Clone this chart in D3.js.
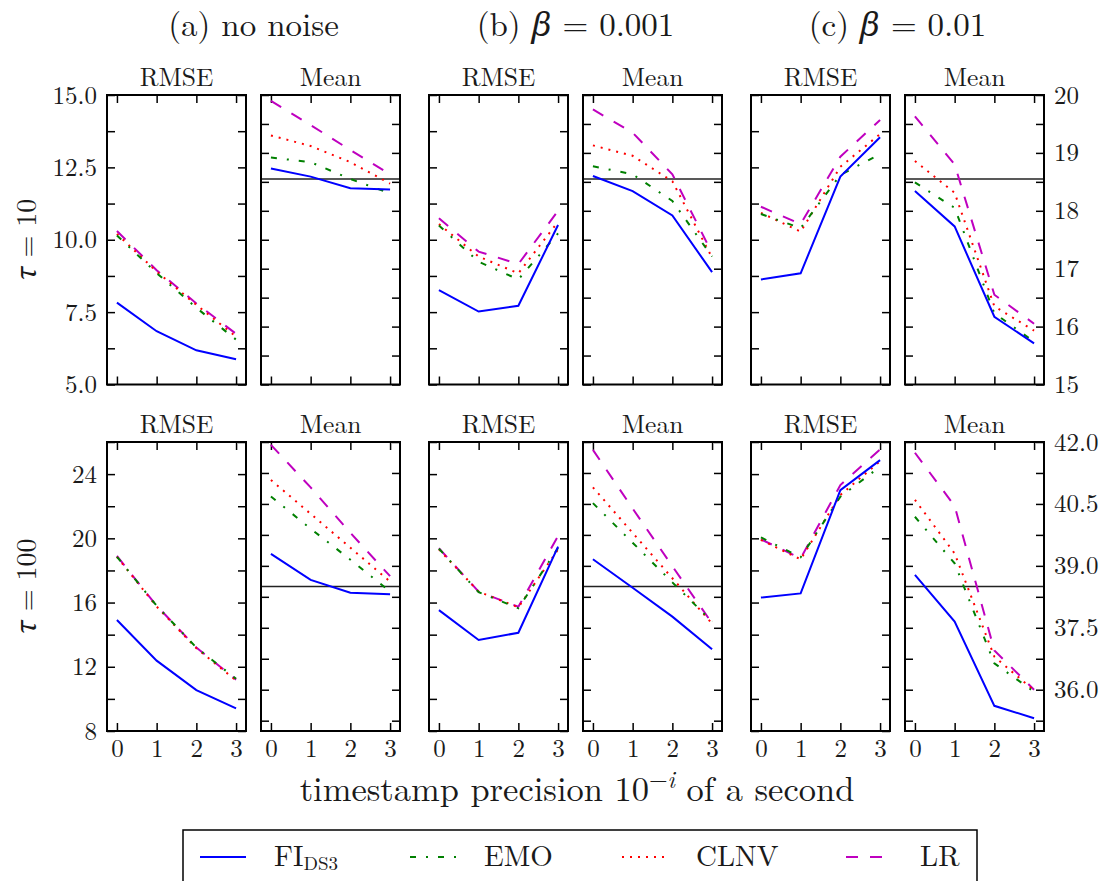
<!DOCTYPE html>
<html><head><meta charset="utf-8">
<script src="https://cdn.jsdelivr.net/npm/d3@7/dist/d3.min.js"></script>
<style>
body{margin:0;background:#fff}
svg{display:block}
</style>
</head><body>
<svg id="c" width="1104" height="881"></svg>
<script>
// ---------- data ----------
const precision = [0, 1, 2, 3];
const methods = ["FI", "EMO", "CLNV", "LR"];
const columnTitles = ["(a) no noise", "(b) β = 0.001", "(c) β = 0.01"];
const metricTitles = ["RMSE", "Mean"];
const rowLabels = ["10", "100"];

// series order: FI, EMO, CLNV, LR
const rmse10A = [[7.83, 6.84, 6.18, 5.87], [10.15, 8.85, 7.65, 6.55], [10.2, 8.9, 7.75, 6.65], [10.3, 8.95, 7.8, 6.75]];
const rmse10B = [[8.26, 7.52, 7.72, 10.51], [10.49, 9.24, 8.63, 10.22], [10.54, 9.42, 8.84, 10.62], [10.74, 9.59, 9.16, 11.0]];
const rmse10C = [[8.63, 8.84, 12.18, 13.54], [10.89, 10.40, 12.24, 12.96], [10.93, 10.28, 12.52, 13.65], [11.14, 10.54, 12.87, 14.14]];
const mean10A = [[18.73, 18.59, 18.39, 18.37], [18.92, 18.84, 18.55, 18.30], [19.30, 19.12, 18.84, 18.47], [19.90, 19.48, 19.05, 18.63]];
const mean10B = [[18.60, 18.34, 17.92, 16.94], [18.77, 18.63, 18.17, 17.21], [19.13, 18.95, 18.51, 17.19], [19.75, 19.35, 18.63, 17.27]];
const mean10C = [[18.34, 17.73, 16.17, 15.71], [18.49, 18.05, 16.23, 15.74], [18.86, 18.31, 16.35, 15.93], [19.63, 18.80, 16.55, 16.05]];
const rmse100A = [[14.91, 12.38, 10.55, 9.41], [18.85, 15.8, 13.2, 11.25], [18.85, 15.75, 13.15, 11.15], [18.9, 15.8, 13.2, 11.2]];
const rmse100B = [[15.53, 13.67, 14.12, 19.48], [19.35, 16.65, 15.65, 19.4], [19.31, 16.68, 15.70, 19.31], [19.38, 16.68, 15.74, 20.14]];
const rmse100C = [[16.31, 16.57, 23.0, 24.87], [20.06, 18.82, 22.59, 24.46], [19.9, 18.69, 22.7, 24.8], [19.94, 18.75, 23.32, 25.54]];
const mean100A = [[39.29, 38.66, 38.35, 38.31], [40.68, 39.9, 39.15, 38.38], [41.08, 40.26, 39.44, 38.62], [41.93, 40.9, 39.8, 38.75]];
const mean100B = [[39.16, 38.47, 37.77, 36.98], [40.52, 39.56, 38.6, 37.65], [40.9, 39.8, 38.7, 37.6], [41.81, 40.39, 38.99, 37.61]];
const mean100C = [[38.78, 37.65, 35.61, 35.31], [40.19, 39.06, 36.64, 35.95], [40.6, 39.30, 36.8, 35.98], [41.74, 40.45, 36.95, 36.0]];

const meanReference = [18.55, 38.5];

const rmseDomain10 = [5, 15], meanDomain10 = [15, 20];
const rmseDomain100 = [8, 26], meanDomain100 = [35, 42];
const rmseTicks10 = [5, 6.25, 7.5, 8.75, 10, 11.25, 12.5, 13.75, 15];
const rmseLabels10 = [5, 7.5, 10, 12.5, 15];
const meanTicks10 = [15, 15.5, 16, 16.5, 17, 17.5, 18, 18.5, 19, 19.5, 20];
const meanLabels10 = [15, 16, 17, 18, 19, 20];
const rmseTicks100 = [8, 10, 12, 14, 16, 18, 20, 22, 24, 26];
const rmseLabels100 = [8, 12, 16, 20, 24];
const meanTicks100 = [35.25, 36, 36.75, 37.5, 38.25, 39, 39.75, 40.5, 41.25, 42];
const meanLabels100 = [36, 37.5, 39, 40.5, 42];

// ---------- layout / style ----------
const FONT = '"Latin Modern Roman", "Liberation Serif", serif';
const GREEK = '"Noto Serif", "Liberation Serif", serif';
const TXT = "#1a1a1a";
const W = 1104, H = 881;
const panelW = 139, innerGap = 15, pairStarts = [107, 429, 751];
const rowBoxes = [{top: 95, bottom: 384.5}, {top: 442, bottom: 731}];
const seriesStyle = [
  {color: "#0000ff", dash: null},
  {color: "#008000", dash: "6,10,2,10"},
  {color: "#ff0000", dash: "2,6"},
  {color: "#bf00bf", dash: "12,12"}
];

const rowsSpec = [
  {rmse: [rmse10A, rmse10B, rmse10C], mean: [mean10A, mean10B, mean10C],
   rmseDomain: rmseDomain10, meanDomain: meanDomain10,
   rmseTicks: rmseTicks10, rmseLabels: rmseLabels10, rmseFmt: d3.format(".1f"),
   meanTicks: meanTicks10, meanLabels: meanLabels10, meanFmt: d3.format("d")},
  {rmse: [rmse100A, rmse100B, rmse100C], mean: [mean100A, mean100B, mean100C],
   rmseDomain: rmseDomain100, meanDomain: meanDomain100,
   rmseTicks: rmseTicks100, rmseLabels: rmseLabels100, rmseFmt: d3.format("d"),
   meanTicks: meanTicks100, meanLabels: meanLabels100, meanFmt: d3.format(".1f")}
];

const svg = d3.select("#c");
svg.append("rect").attr("width", W).attr("height", H).attr("fill", "#fff");

function txt(sel, size) {
  return sel.style("font-family", FONT).style("font-size", size + "px").attr("fill", TXT);
}
function styleTicks(g) {
  g.select(".domain").remove();
  g.selectAll(".tick line").attr("stroke", "#000").attr("stroke-width", 1.5);
}
function styleLabels(g, size) {
  g.select(".domain").remove();
  g.attr("font-family", null).attr("font-size", null);
  g.selectAll(".tick line").remove();
  txt(g.selectAll(".tick text"), size);
}

rowsSpec.forEach((spec, r) => {
  const box = rowBoxes[r];
  const yR = d3.scaleLinear().domain(spec.rmseDomain).range([box.bottom, box.top]);
  const yM = d3.scaleLinear().domain(spec.meanDomain).range([box.bottom, box.top]);
  for (let c = 0; c < 3; c++) {
    for (let m = 0; m < 2; m++) {
      const left = pairStarts[c] + m * (panelW + innerGap);
      const x = d3.scaleLinear().domain([-0.25, 3.25]).range([left, left + panelW]);
      const y = m === 0 ? yR : yM;
      const ticks = m === 0 ? spec.rmseTicks : spec.meanTicks;
      const data = m === 0 ? spec.rmse[c] : spec.mean[c];
      const g = svg.append("g");

      g.append("g").attr("transform", `translate(${left},0)`)
        .call(d3.axisRight(y).tickValues(ticks).tickSize(8).tickFormat("")).call(styleTicks);
      g.append("g").attr("transform", `translate(${left + panelW},0)`)
        .call(d3.axisLeft(y).tickValues(ticks).tickSize(8).tickFormat("")).call(styleTicks);
      g.append("g").attr("transform", `translate(0,${box.top})`)
        .call(d3.axisBottom(x).tickValues(precision).tickSize(8).tickFormat("")).call(styleTicks);
      g.append("g").attr("transform", `translate(0,${box.bottom})`)
        .call(d3.axisTop(x).tickValues(precision).tickSize(8).tickFormat("")).call(styleTicks);

      if (m === 1) {
        g.append("line")
          .attr("x1", x.range()[0]).attr("x2", x.range()[1])
          .attr("y1", y(meanReference[r])).attr("y2", y(meanReference[r]))
          .attr("stroke", "#222").attr("stroke-width", 1.5);
      }

      const line = d3.line().x((d, i) => x(precision[i])).y(d => y(d));
      [3, 2, 1, 0].forEach(s => {
        g.append("path").datum(data[s])
          .attr("d", line)
          .attr("fill", "none")
          .attr("stroke", seriesStyle[s].color)
          .attr("stroke-width", 2)
          .attr("stroke-dasharray", seriesStyle[s].dash);
      });

      g.append("rect").attr("x", left).attr("y", box.top)
        .attr("width", panelW).attr("height", box.bottom - box.top)
        .attr("fill", "none").attr("stroke", "#000").attr("stroke-width", 2);

      txt(g.append("text").attr("x", left + panelW / 2).attr("y", box.top - 9)
        .attr("text-anchor", "middle"), 25.5)
        .text(metricTitles[m]);

      if (c === 0 && m === 0) {
        svg.append("g").attr("transform", `translate(${left},0)`)
          .call(d3.axisLeft(yR).tickValues(spec.rmseLabels).tickSize(0).tickPadding(10).tickFormat(spec.rmseFmt))
          .call(g2 => styleLabels(g2, 25));
      }
      if (c === 2 && m === 1) {
        svg.append("g").attr("transform", `translate(${left + panelW},0)`)
          .call(d3.axisRight(yM).tickValues(spec.meanLabels).tickSize(0).tickPadding(10).tickFormat(spec.meanFmt))
          .call(g2 => styleLabels(g2, 25));
      }
      if (r === 1) {
        svg.append("g").attr("transform", `translate(0,${box.bottom})`)
          .call(d3.axisBottom(x).tickValues(precision).tickSize(0).tickPadding(8).tickFormat(d3.format("d")))
          .call(g2 => styleLabels(g2, 25));
      }
    }
  }
  const cy = (box.top + box.bottom) / 2;
  const t = txt(svg.append("text")
    .attr("transform", `translate(36,${cy}) rotate(-90)`)
    .attr("text-anchor", "middle"), 28);
  t.append("tspan").style("font-family", GREEK).style("font-style", "italic").text("τ");
  t.append("tspan").attr("dx", 9).text("=");
  t.append("tspan").attr("dx", 9).text(rowLabels[r]);
});

columnTitles.forEach((title, c) => {
  const cx = pairStarts[c] + panelW + innerGap / 2;
  const t = txt(svg.append("text").attr("x", cx).attr("y", 36)
    .attr("text-anchor", "middle"), 33);
  if (title.includes("β")) {
    const parts = title.split("β");
    t.append("tspan").text(parts[0]);
    t.append("tspan").style("font-family", GREEK).style("font-style", "italic").text("β");
    t.append("tspan").text(parts[1]);
  } else {
    t.text(title);
  }
});

const xl = txt(svg.append("text").attr("x", 577).attr("y", 801)
  .attr("text-anchor", "middle"), 34.5);
xl.append("tspan").text("timestamp precision 10");
xl.append("tspan").attr("dy", -13).style("font-size", "24px").text("−");
xl.append("tspan").style("font-size", "24px").style("font-style", "italic").text("i");
xl.append("tspan").attr("dy", 13).text(" of a second");

const lg = svg.append("g");
lg.append("rect").attr("x", 183).attr("y", 830).attr("width", 794).attr("height", 70)
  .attr("fill", "#fff").attr("stroke", "#000").attr("stroke-width", 1.5);
const legendX = [200, 410, 622, 846];
methods.forEach((name, i) => {
  const lx = legendX[i];
  lg.append("line").attr("x1", lx).attr("x2", lx + 46).attr("y1", 857).attr("y2", 857)
    .attr("stroke", seriesStyle[i].color).attr("stroke-width", 2)
    .attr("stroke-dasharray", seriesStyle[i].dash);
  const tx = txt(lg.append("text").attr("x", lx + 74).attr("y", 866), 29);
  if (name === "FI") {
    tx.append("tspan").text("FI");
    tx.append("tspan").attr("dy", 4).style("font-size", "19px").text("DS3");
  } else {
    tx.text(name);
  }
});
</script>
</body></html>
